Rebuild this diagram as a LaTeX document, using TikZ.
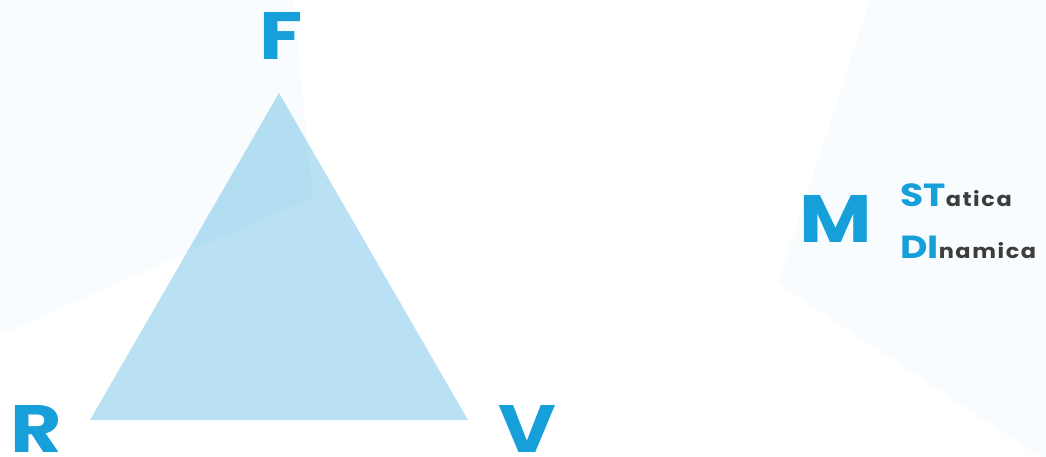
\documentclass[tikz,border=0pt]{standalone}
\usepackage{fontspec}
\setmainfont{Poppins}
\newfontfamily\widefont{Poppins}[FakeStretch=1.18]
\newfontfamily\spacedfont{Poppins}[FakeStretch=1.12, LetterSpace=8]
\definecolor{mblue}{HTML}{179FDA}
\definecolor{trifill}{HTML}{B9E1F3}
\definecolor{txtgray}{HTML}{3D3D3D}
\newcommand{\twotone}[2]{{\widefont\bfseries\fontsize{32}{32}\selectfont\color{mblue}#1}{\spacedfont\bfseries\fontsize{20}{20}\selectfont\color{txtgray}#2}}
\begin{document}
\begin{tikzpicture}[x=1pt, y=-1pt, line join=round,
    bigletter/.style={font=\widefont\bfseries\fontsize{67}{67}\selectfont, text=mblue, inner sep=0pt, anchor=base west},
    subword/.style={inner sep=0pt, anchor=base west},
    panel/.style={fill=mblue, fill opacity=0.03}]
  \useasboundingbox (0,0) rectangle (1046,457);
  % triangle
  \coordinate (top) at (279,93);
  \coordinate (left) at (90,420);
  \coordinate (right) at (468,420);
  \fill[trifill] (top) -- (left) -- (right) -- cycle;
  % faint background panels
  \fill[panel] (0,0) -- (293,0) -- (313,197) -- (0,335) -- cycle;
  \fill[panel] (870,0) -- (1046,0) -- (1046,457) -- (1040,457) -- (778,283) -- cycle;
  % letters
  \node[bigletter] (F) at (259,60) {F};
  \node[bigletter] (R) at (10,452) {R};
  \node[bigletter] (V) at (498,452) {V};
  \node[bigletter] (M) at (799,242) {M};
  \node[subword] (stat) at (900,206) {\twotone{ST}{atica}};
  \node[subword] (dyn) at (900,258) {\twotone{DI}{namica}};
\end{tikzpicture}
\end{document}
